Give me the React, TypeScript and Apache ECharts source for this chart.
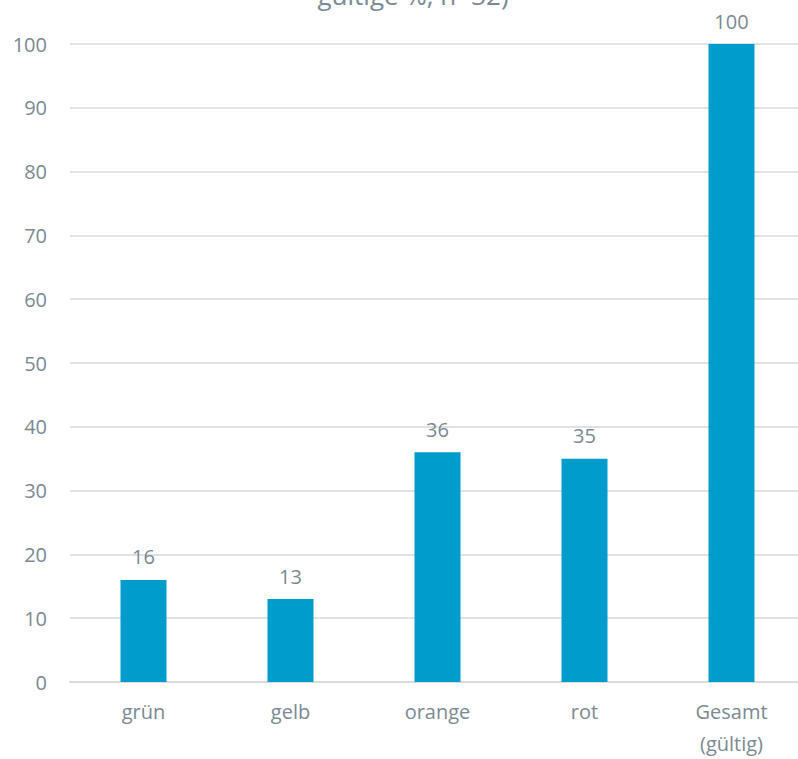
import React, { useEffect, useRef } from "react";
import * as echarts from "echarts";

const categories = ["grün", "gelb", "orange", "rot", "Gesamt\n(gültig)"];
const values = [16, 13, 36, 35, 100];
const titleText = "gültige %, n=32)";

export default function App() {
  const ref = useRef<HTMLDivElement>(null);
  useEffect(() => {
    if (!ref.current) return;
    const chart = echarts.init(ref.current, null, { renderer: "svg" });
    const txt = "#7b8a93";
    chart.setOption({
      animation: false,
      textStyle: { fontFamily: "Open Sans" },
      graphic: [
        {
          type: "text",
          x: 413,
          y: 8,
          style: {
            text: titleText,
            fill: txt,
            font: "26px 'Open Sans'",
            textAlign: "center",
            textVerticalAlign: "bottom",
          },
        },
      ],
      grid: { left: 70, right: 0, top: 44, bottom: 73, containLabel: false },
      xAxis: {
        type: "category",
        data: categories,
        axisLine: { show: true, lineStyle: { color: "#d9dcdf", width: 2 } },
        axisTick: { show: false },
        axisLabel: { color: txt, fontSize: 20, margin: 13, lineHeight: 32 },
      },
      yAxis: {
        type: "value",
        min: 0,
        max: 100,
        interval: 10,
        axisLine: { show: false },
        axisTick: { show: false },
        splitLine: { lineStyle: { color: "#dfe2e5", width: 2 } },
        axisLabel: { color: txt, fontSize: 20, margin: 23 },
      },
      series: [
        {
          type: "bar",
          data: values,
          barWidth: 46,
          itemStyle: { color: "#009ccb" },
          label: { show: true, position: "top", distance: 13, color: txt, fontSize: 20 },
        },
      ],
    });
    return () => chart.dispose();
  }, []);
  return (
    <div style={{ position: "absolute", left: 0, top: 0, width: 798, height: 759, overflow: "hidden", background: "#fff" }}>
      <div ref={ref} style={{ width: 805, height: 759 }} />
    </div>
  );
}
